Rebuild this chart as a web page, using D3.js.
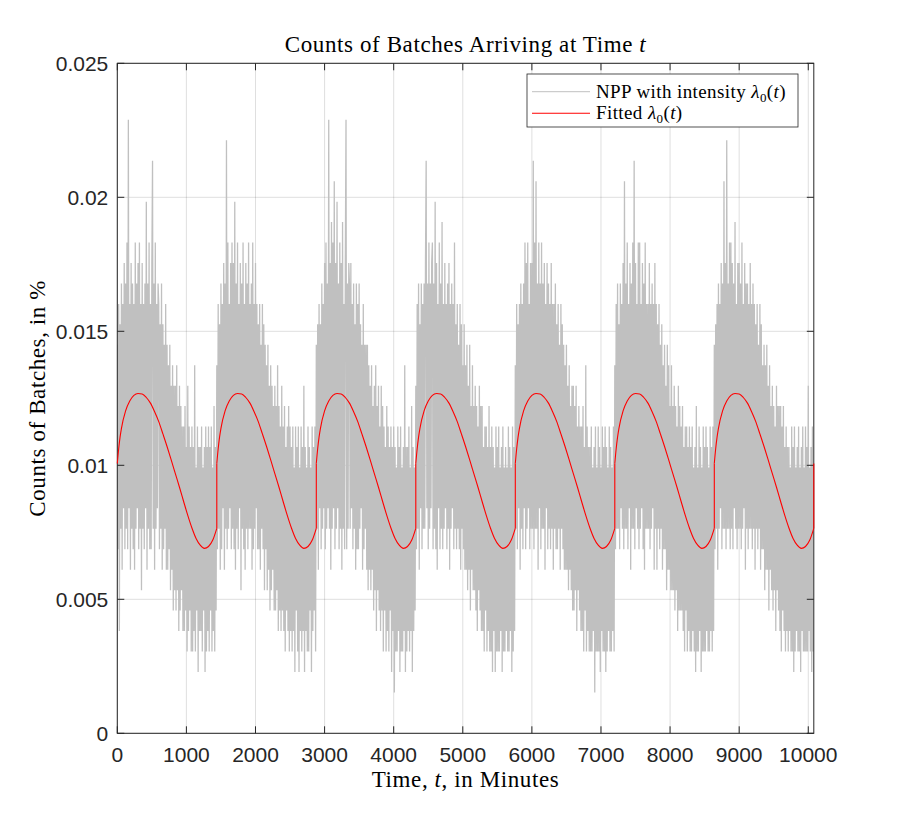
<!DOCTYPE html>
<html>
<head>
<meta charset="utf-8">
<script src="https://cdn.jsdelivr.net/npm/d3@7"></script>
<style>
    body { margin: 0; background: #ffffff; }
    .tick-label { font-family: "Liberation Sans", Arial, Helvetica, sans-serif; font-size: 21px; fill: #262626; }
    .latex { font-family: "Liberation Serif", "Times New Roman", serif; fill: #000000; }
</style>
</head>
<body>
<div id="chart"></div>
<script>
// Batches arriving per 10-minute bin, one array per day (counts of batches)
const dayMinutes = 1440;
const binMinutes = 10;
const countUnit = 0.000763; // one batch, in %

const nppDay1 = [
    19, 9, 21, 5, 20, 10, 22, 8, 21, 11, 23, 9,
    22, 10, 24, 9, 30, 11, 21, 8, 23, 10, 22, 9,
    21, 8, 24, 10, 22, 11, 23, 9, 24, 10, 21, 7,
    23, 10, 21, 9, 22, 11, 26, 8, 22, 10, 24, 9,
    21, 9, 23, 28, 10, 22, 8, 24, 10, 21, 11, 22,
    21, 9, 20, 10, 22, 8, 20, 9, 19, 10, 21, 8,
    19, 8, 18, 9, 19, 7, 17, 8, 18, 6, 17, 7,
    17, 6, 18, 7, 16, 5, 17, 6, 16, 7, 15, 5,
    15, 5, 16, 6, 14, 4, 17, 5, 15, 6, 14, 4,
    15, 4, 14, 5, 18, 4, 13, 6, 15, 3, 14, 5,
    14, 5, 15, 4, 13, 6, 14, 3, 15, 4, 14, 5,
    15, 4, 14, 6, 15, 4, 13, 5, 16, 4, 14, 6
];
const nppDay2 = [
    18, 9, 21, 10, 20, 8, 22, 9, 21, 11, 23, 8,
    22, 10, 29, 9, 24, 10, 21, 11, 23, 9, 24, 10,
    23, 9, 26, 8, 22, 10, 24, 9, 21, 11, 23, 7,
    22, 10, 24, 9, 21, 8, 23, 10, 22, 9, 24, 10,
    21, 10, 22, 8, 24, 9, 21, 10, 23, 11, 21, 9,
    20, 9, 21, 8, 19, 10, 21, 9, 20, 7, 19, 9,
    18, 7, 19, 8, 17, 6, 18, 7, 17, 8, 16, 6,
    17, 6, 16, 7, 18, 5, 16, 6, 15, 5, 17, 6,
    15, 5, 16, 4, 14, 6, 15, 5, 16, 4, 15, 5,
    14, 4, 15, 5, 13, 3, 15, 6, 14, 4, 15, 3,
    13, 5, 15, 4, 14, 5, 17, 3, 14, 5, 13, 4,
    15, 4, 14, 6, 13, 3, 15, 5, 14, 6, 15, 4
];
const nppDay3 = [
    19, 10, 20, 8, 21, 11, 20, 9, 22, 10, 21, 11,
    23, 9, 24, 10, 22, 11, 30, 10, 23, 8, 25, 10,
    24, 11, 27, 9, 23, 10, 26, 11, 22, 9, 24, 10,
    23, 8, 25, 10, 21, 9, 23, 30, 9, 22, 10, 23,
    22, 10, 23, 11, 21, 9, 22, 10, 20, 8, 22, 9,
    21, 9, 22, 10, 20, 11, 19, 8, 21, 9, 19, 10,
    19, 8, 19, 7, 18, 8, 17, 7, 18, 8, 16, 6,
    17, 7, 18, 5, 16, 7, 17, 6, 15, 5, 17, 6,
    16, 4, 15, 6, 14, 4, 16, 5, 15, 4, 14, 6,
    15, 3, 14, 5, 15, 2, 14, 4, 13, 4, 15, 5,
    14, 3, 15, 4, 13, 4, 14, 5, 18, 3, 14, 4,
    14, 5, 15, 4, 13, 5, 16, 3, 14, 5, 13, 6
];
const nppDay4 = [
    17, 9, 21, 10, 22, 8, 20, 11, 22, 9, 21, 10,
    22, 10, 23, 28, 11, 22, 9, 24, 10, 22, 11, 23,
    24, 9, 22, 10, 26, 9, 23, 8, 21, 11, 24, 9,
    22, 10, 25, 9, 21, 10, 23, 11, 21, 9, 22, 10,
    23, 8, 21, 10, 22, 11, 21, 9, 24, 10, 20, 9,
    21, 10, 19, 9, 21, 8, 20, 10, 18, 9, 20, 8,
    18, 8, 19, 7, 17, 8, 19, 6, 16, 8, 18, 7,
    16, 7, 17, 6, 16, 5, 15, 7, 17, 6, 16, 5,
    16, 5, 14, 4, 15, 6, 15, 4, 14, 5, 16, 4,
    14, 4, 15, 3, 14, 5, 13, 3, 15, 4, 14, 4,
    15, 4, 13, 5, 14, 3, 15, 4, 13, 4, 14, 5,
    13, 4, 15, 4, 14, 5, 13, 3, 15, 4, 14, 5
];
const nppDay5 = [
    18, 10, 21, 9, 20, 11, 21, 8, 22, 10, 21, 9,
    22, 11, 24, 9, 23, 10, 24, 11, 21, 9, 23, 10,
    23, 10, 28, 9, 24, 10, 27, 10, 22, 8, 24, 11,
    22, 9, 24, 10, 22, 10, 23, 8, 21, 11, 23, 9,
    22, 10, 21, 9, 23, 10, 21, 8, 21, 10, 22, 9,
    20, 9, 21, 10, 19, 8, 21, 10, 20, 9, 19, 8,
    18, 8, 19, 8, 17, 7, 18, 8, 16, 7, 17, 6,
    17, 6, 16, 7, 17, 5, 15, 7, 16, 6, 15, 5,
    15, 5, 16, 4, 14, 6, 18, 4, 15, 5, 14, 4,
    14, 4, 15, 4, 13, 5, 14, 2, 15, 4, 13, 4,
    15, 4, 14, 3, 13, 5, 15, 4, 14, 4, 15, 3,
    14, 4, 13, 5, 15, 4, 14, 4, 13, 5, 15, 4
];
const nppDay6 = [
    18, 9, 21, 10, 22, 10, 20, 9, 22, 11, 21, 10,
    23, 9, 27, 10, 22, 10, 24, 9, 21, 11, 23, 8,
    22, 10, 24, 10, 28, 9, 23, 11, 21, 10, 24, 9,
    24, 10, 21, 11, 23, 9, 22, 8, 24, 10, 21, 10,
    21, 10, 23, 9, 21, 10, 22, 11, 21, 8, 23, 10,
    21, 8, 20, 10, 21, 9, 19, 10, 20, 8, 18, 9,
    19, 9, 17, 7, 19, 8, 18, 8, 16, 7, 18, 7,
    16, 7, 17, 6, 16, 7, 15, 5, 17, 6, 16, 6,
    15, 6, 16, 5, 14, 4, 15, 6, 15, 4, 14, 5,
    15, 4, 14, 4, 15, 5, 13, 4, 14, 3, 16, 4,
    13, 4, 15, 5, 14, 3, 13, 4, 15, 4, 14, 4,
    15, 5, 14, 4, 13, 4, 15, 5, 14, 4, 15, 5
];
const nppDay7 = [
    19, 9, 20, 10, 21, 8, 22, 10, 21, 11, 23, 9,
    22, 10, 27, 10, 23, 9, 29, 10, 22, 10, 24, 9,
    24, 10, 23, 9, 22, 11, 25, 10, 21, 9, 23, 10,
    23, 10, 22, 9, 24, 10, 21, 11, 23, 8, 22, 10,
    22, 9, 21, 10, 23, 10, 21, 9, 22, 10, 21, 8,
    20, 10, 21, 9, 19, 10, 21, 8, 20, 9, 18, 9,
    19, 7, 18, 8, 19, 8, 17, 6, 18, 8, 16, 7,
    17, 6, 16, 7, 15, 5, 17, 7, 16, 6, 16, 5,
    16, 4, 15, 6, 16, 5, 14, 4, 15, 5, 14, 4,
    14, 5, 13, 4, 15, 4, 14, 3, 15, 4, 13, 5,
    14, 4, 15, 4, 13, 3, 14, 5, 15, 4, 13, 4,
    15, 4, 14, 4, 17, 5, 13, 4, 14, 3, 15, 4
];
const nppDays = [nppDay1, nppDay2, nppDay3, nppDay4, nppDay5, nppDay6, nppDay7];

// Fitted daily intensity (minute of day, %)
const lambdaT = [0, 20, 40, 60, 120, 180, 240, 300, 360, 420, 480, 540, 600, 660,
    720, 780, 840, 900, 960, 1020, 1080, 1140, 1200, 1260, 1320, 1380, 1440];
const lambdaV = [0.01007, 0.01062, 0.01105, 0.01138, 0.01203, 0.01240, 0.01261, 0.01268,
    0.01266, 0.01253, 0.01232, 0.01200, 0.01163, 0.01117, 0.01070, 0.01020, 0.00969,
    0.00918, 0.00865, 0.00813, 0.00766, 0.00727, 0.00702, 0.00690, 0.00697, 0.00720, 0.00765];

const xTicks = d3.range(0, 10001, 1000);
const yTicks = [0, 0.005, 0.01, 0.015, 0.02, 0.025];
const yTickLabels = ["0", "0.005", "0.01", "0.015", "0.02", "0.025"];

const width = 900;
const height = 825;
const margin = { top: 63.3, right: 86.2, bottom: 91.7, left: 117.3 };
const axisColor = "#262626";

const svg = d3.select("#chart")
    .append("svg")
    .attr("width", width)
    .attr("height", height);

const x = d3.scaleLinear().domain([0, 7 * dayMinutes]).range([margin.left, width - margin.right]);
const y = d3.scaleLinear().domain([0, 0.025]).range([height - margin.bottom, margin.top]);

// grid
svg.append("g")
    .selectAll("line")
    .data(xTicks)
    .join("line")
    .attr("x1", (d) => x(d)).attr("x2", (d) => x(d))
    .attr("y1", y(0)).attr("y2", y(0.025))
    .attr("stroke", axisColor).attr("stroke-opacity", 0.15).attr("stroke-width", 1);
svg.append("g")
    .selectAll("line")
    .data(yTicks)
    .join("line")
    .attr("y1", (d) => y(d)).attr("y2", (d) => y(d))
    .attr("x1", x(0)).attr("x2", x(7 * dayMinutes))
    .attr("stroke", axisColor).attr("stroke-opacity", 0.15).attr("stroke-width", 1);

svg.append("clipPath").attr("id", "plot-clip")
    .append("rect")
    .attr("x", margin.left).attr("y", margin.top)
    .attr("width", width - margin.left - margin.right)
    .attr("height", height - margin.top - margin.bottom);

// NPP samples
const nppPoints = nppDays.flatMap((counts, day) =>
    counts.map((c, i) => ({ t: day * dayMinutes + i * binMinutes, v: c * countUnit })));

const line = d3.line().x((d) => x(d.t)).y((d) => y(d.v));

svg.append("g").attr("clip-path", "url(#plot-clip)")
    .append("path")
    .datum(nppPoints)
    .attr("d", line)
    .attr("fill", "none")
    .attr("stroke", "#c0c0c0")
    .attr("stroke-width", 1.3)
    .attr("stroke-linejoin", "bevel");

// axes box and inward ticks
const tickLen = 7;
const axes = svg.append("g").attr("stroke", axisColor).attr("stroke-width", 1).attr("fill", "none");
axes.append("rect")
    .attr("x", margin.left).attr("y", margin.top)
    .attr("width", width - margin.left - margin.right)
    .attr("height", height - margin.top - margin.bottom);

axes.selectAll(".xt")
    .data(xTicks)
    .join("path")
    .attr("class", "xt")
    .attr("d", (d) => `M${x(d)},${y(0)}v${-tickLen}M${x(d)},${y(0.025)}v${tickLen}`);
axes.selectAll(".yt")
    .data(yTicks)
    .join("path")
    .attr("class", "yt")
    .attr("d", (d) => `M${x(0)},${y(d)}h${tickLen}M${x(7 * dayMinutes)},${y(d)}h${-tickLen}`);

// fitted intensity, repeated each day with a jump at midnight
const smooth = d3.line().x((d) => x(d.t)).y((d) => y(d.v)).curve(d3.curveMonotoneX);
const days = d3.range(7);
const fitted = svg.append("g");

fitted.selectAll(".lambda-day")
    .data(days)
    .join("path")
    .attr("class", "lambda-day")
    .attr("d", (day) => smooth(lambdaT.map((t, i) => ({ t: day * dayMinutes + t, v: lambdaV[i] }))))
    .attr("fill", "none")
    .attr("stroke", "#ff0000")
    .attr("stroke-width", 1.1);

fitted.selectAll(".lambda-jump")
    .data(days.map((d) => d + 1))
    .join("path")
    .attr("class", "lambda-jump")
    .attr("d", (day) => line([
        { t: day * dayMinutes, v: lambdaV[lambdaV.length - 1] },
        { t: day * dayMinutes, v: lambdaV[0] }
    ]))
    .attr("fill", "none")
    .attr("stroke", "#ff0000")
    .attr("stroke-width", 1.1);

svg.append("g")
    .selectAll("text")
    .data(xTicks)
    .join("text")
    .attr("class", "tick-label")
    .attr("x", (d) => x(d))
    .attr("y", y(0) + 29)
    .attr("text-anchor", "middle")
    .text((d) => d);

svg.append("g")
    .selectAll("text")
    .data(yTicks)
    .join("text")
    .attr("class", "tick-label")
    .attr("x", x(0) - 9)
    .attr("y", (d) => y(d) + 7.5)
    .attr("text-anchor", "end")
    .text((d, i) => yTickLabels[i]);

// title and axis labels
const title = svg.append("text")
    .attr("class", "latex")
    .attr("x", (x(0) + x(7 * dayMinutes)) / 2)
    .attr("y", 52)
    .attr("text-anchor", "middle")
    .style("font-size", "23px")
    .style("letter-spacing", "0.6px");
title.append("tspan").text("Counts of Batches Arriving at Time ");
title.append("tspan").attr("font-style", "italic").text("t");

const xLabel = svg.append("text")
    .attr("class", "latex")
    .attr("x", (x(0) + x(7 * dayMinutes)) / 2)
    .attr("y", 787)
    .attr("text-anchor", "middle")
    .style("font-size", "23px")
    .style("letter-spacing", "0.6px");
xLabel.append("tspan").text("Time, ");
xLabel.append("tspan").attr("font-style", "italic").text("t");
xLabel.append("tspan").text(", in Minutes");

svg.append("text")
    .attr("class", "latex")
    .attr("transform", `translate(45,${(y(0) + y(0.025)) / 2}) rotate(-90)`)
    .attr("text-anchor", "middle")
    .style("font-size", "23px")
    .style("letter-spacing", "0.6px")
    .text("Counts of Batches, in %");

// legend
const legend = svg.append("g");
legend.append("rect")
    .attr("x", 527).attr("y", 74).attr("width", 271).attr("height", 53)
    .attr("fill", "#ffffff").attr("stroke", axisColor).attr("stroke-width", 0.8);

const legendItems = [
    { label: "NPP with intensity ", color: "#c0c0c0", width: 1 },
    { label: "Fitted ", color: "#ff0000", width: 1.1 }
];
const rows = legend.selectAll(".entry")
    .data(legendItems)
    .join("g")
    .attr("class", "entry")
    .attr("transform", (d, i) => `translate(0,${91.7 + i * 21.6})`);
rows.append("line")
    .attr("x1", 532).attr("x2", 590)
    .attr("stroke", (d) => d.color).attr("stroke-width", (d) => d.width);
const rowText = rows.append("text")
    .attr("class", "latex")
    .attr("x", 596).attr("y", 6)
    .style("font-size", "19px")
    .style("letter-spacing", "0.4px");
rowText.append("tspan").text((d) => d.label);
rowText.append("tspan").attr("font-style", "italic").text("λ");
rowText.append("tspan").attr("dy", 4).style("font-size", "13px").text("0");
rowText.append("tspan").attr("dy", -4).text("(");
rowText.append("tspan").attr("font-style", "italic").text("t");
rowText.append("tspan").text(")");
</script>
</body>
</html>
